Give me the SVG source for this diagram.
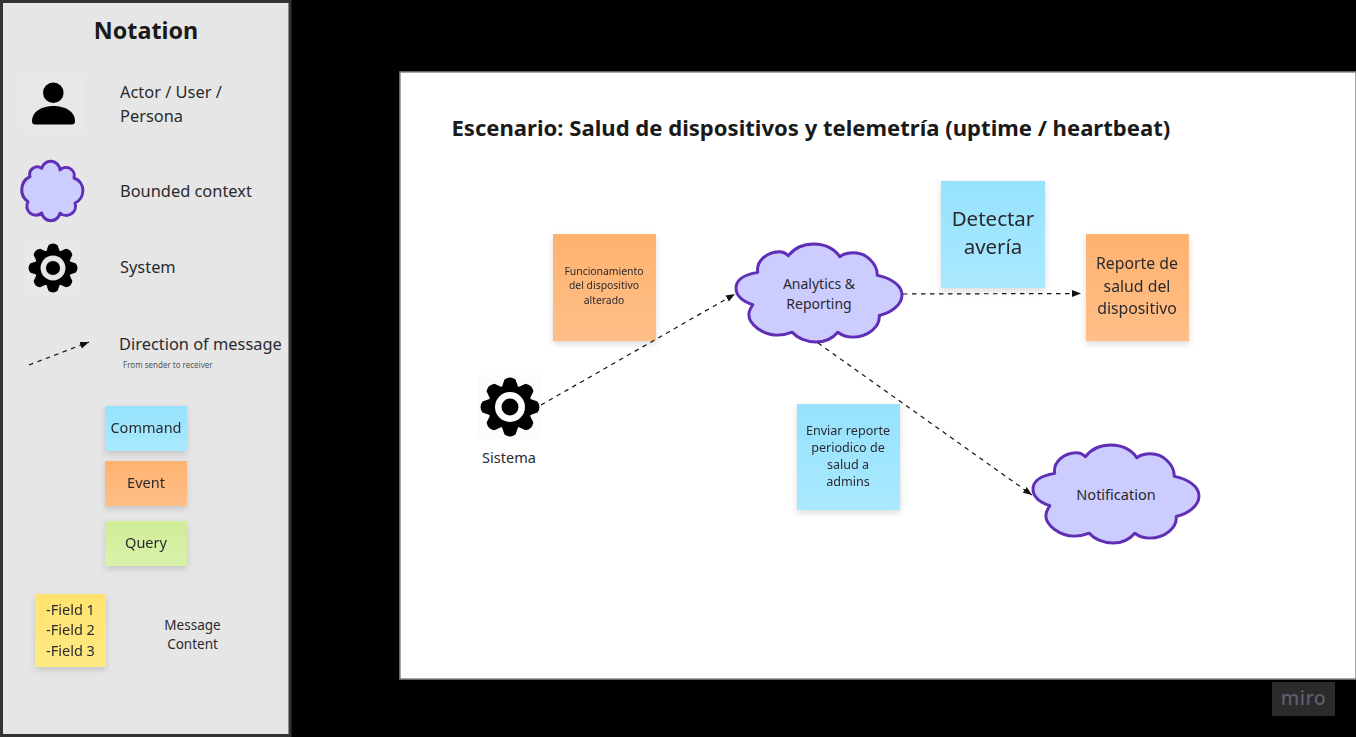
<svg xmlns="http://www.w3.org/2000/svg" xmlns:xlink="http://www.w3.org/1999/xlink" width="1356" height="737" viewBox="0 0 1356 737">
<style>
text{font-family:"Noto Sans","Open Sans",sans-serif;fill:#2a2a2e;text-anchor:middle}
.l{text-anchor:start;font-size:16.4px}
.b{font-weight:700;fill:#1a1a1a}
.cloud{fill:#ccccff;stroke:#5f2fb5;stroke-width:3;stroke-linejoin:round}
.conn{fill:none;stroke:#111;stroke-width:1.2;stroke-dasharray:4.5 4.5;marker-end:url(#arrow)}
.shadow{filter:url(#sh)}
</style>
<defs>
<linearGradient id="gb" x1="0" y1="0" x2="0" y2="1"><stop offset="0" stop-color="#96e2fd"/><stop offset="1" stop-color="#a9e9ff"/></linearGradient>
<linearGradient id="go" x1="0" y1="0" x2="0" y2="1"><stop offset="0" stop-color="#ffb26f"/><stop offset="1" stop-color="#ffbf88"/></linearGradient>
<linearGradient id="gg" x1="0" y1="0" x2="0" y2="1"><stop offset="0" stop-color="#cfec97"/><stop offset="1" stop-color="#d9f2aa"/></linearGradient>
<linearGradient id="gy" x1="0" y1="0" x2="0" y2="1"><stop offset="0" stop-color="#ffe36e"/><stop offset="1" stop-color="#ffe983"/></linearGradient>
<filter id="sh" x="-15%" y="-15%" width="130%" height="135%"><feDropShadow dx="0" dy="3" stdDeviation="3" flood-color="#000" flood-opacity="0.14"/></filter>
<marker id="arrow" markerUnits="userSpaceOnUse" markerWidth="10" markerHeight="8" refX="9" refY="4" orient="auto"><path d="M0,0.5 L9,4 L0,7.5 Z" fill="#111"/></marker>
<path id="cl" d="M17,62 C5,58 0,52 0,45 C0,36 10,31 22,29 C20,17 32,8 44,8 C48,8 51,10 53,12 C59,4 68,0 79,0 C90,0 100,5 105,13 C109,10 114,9 119,9 C132,9 143,20 143,32 C157,35 168,42 168,52 C168,62 157,70 145,73 C146,84 134,95 118,95 C112,95 107,93 103,90 C98,96 90,100 81,100 C72,100 62,96 57,90 C52,92 47,93 42,93 C27,93 13,82 13,72 C13,68 15,65 17,62 Z"/>
<g id="gear">
<circle r="22"/>
<g id="t4"><path id="t" d="M-8.500,-19 L-5.500,-27.500 Q0,-31.500 5.500,-27.500 L8.500,-19 Z"/><use href="#t" transform="rotate(90)"/><use href="#t" transform="rotate(180)"/><use href="#t" transform="rotate(270)"/></g>
<use href="#t4" transform="rotate(45)"/>
<circle r="15" fill="currentColor"/>
<circle r="8.5"/>
</g>
</defs>
<rect width="1356" height="737" fill="#000"/>
<g id="notation-panel">
<rect x="1.5" y="1.5" width="288.5" height="734" fill="#e6e6e6" stroke="#333" stroke-width="3"/>
<text class="b" x="146" y="39" font-size="23.300">Notation</text>
</g>
<g id="legend-actor">
<rect x="23" y="73" width="60" height="60" fill="#e8e8e8"/>
<circle cx="53.3" cy="92.7" r="10.3"/>
<path d="M32,121 C32,111 43,106 53.5,106 C64,106 75,111 75,121 Q75,124.500 72,124.500 L35,124.500 Q32,124.500 32,121 Z"/>
<text class="l" x="120" y="98">Actor / User /</text>
<text class="l" x="120" y="122">Persona</text>
</g>
<g id="legend-context">
<path class="cloud" d="M41.700,168.300 A9.300,9.300 0 0 1 60,170 A8.300,8.300 0 0 1 74,178 A13.500,13.500 0 0 1 75,203 A9.300,9.300 0 0 1 60,213 A9.300,9.300 0 0 1 41.700,213 A9,9 0 0 1 28,201.700 A14.500,14.500 0 0 1 30,176.700 A7.600,7.600 0 0 1 41.700,168.300 Z"/>
<text class="l" x="120" y="197">Bounded context</text>
</g>
<g id="legend-system">
<rect x="26" y="241" width="54" height="54" fill="#e8e8e8"/>
<use href="#gear" transform="translate(53,268) scale(0.83)" color="#e6e6e6"/>
<text class="l" x="120" y="273">System</text>
</g>
<g id="legend-direction">
<text class="l" x="119" y="350">Direction of message</text>
<text x="123" y="368" font-size="8" style="text-anchor:start;fill:#555">From sender to receiver</text>
</g>
<g id="legend-command" class="shadow"><rect x="105" y="406" width="82" height="45" fill="url(#gb)"/><text x="146" y="433" font-size="14.500">Command</text></g>
<g id="legend-event" class="shadow"><rect x="105" y="461" width="82" height="45" fill="url(#go)"/><text x="146" y="488" font-size="14.500">Event</text></g>
<g id="legend-query" class="shadow"><rect x="105" y="521" width="82" height="45" fill="url(#gg)"/><text x="146" y="548" font-size="14.500">Query</text></g>
<g id="legend-fields" class="shadow"><rect x="35" y="594" width="71" height="73" fill="url(#gy)"/>
<text x="70.500" y="615" font-size="14.500">-Field 1</text><text x="70.500" y="635" font-size="14.500">-Field 2</text><text x="70.500" y="656" font-size="14.500">-Field 3</text></g>
<g id="legend-message"><text x="192.500" y="630" font-size="13.500">Message</text><text x="192.500" y="649" font-size="13.500">Content</text></g>
<g id="canvas"><rect x="400" y="72" width="956" height="607" fill="#fff" stroke="#8a8a8a" stroke-width="1.500"/></g>
<g id="title"><text class="b" x="451.500" y="136" font-size="22.080" style="text-anchor:start">Escenario: Salud de dispositivos y telemetría (uptime / heartbeat)</text></g>
<g id="sistema">
<rect x="478" y="375" width="64" height="64" fill="#fcfcfc"/>
<use href="#gear" transform="translate(510,407)" color="#fff"/>
<text x="509" y="463" font-size="14.500">Sistema</text>
</g>
<g id="funcionamiento" class="shadow"><rect x="553" y="234" width="103" height="107" fill="url(#go)"/>
<text x="604" y="275" font-size="10.400">Funcionamiento</text><text x="604" y="289" font-size="10.400">del dispositivo</text><text x="604" y="304" font-size="10.400">alterado</text></g>
<g id="analytics"><use href="#cl" class="cloud" transform="translate(736,244) scale(0.988,0.98)"/>
<text x="819" y="289" font-size="14">Analytics &amp;</text><text x="819" y="309" font-size="14">Reporting</text></g>
<g id="detectar" class="shadow"><rect x="941" y="181" width="104" height="107" fill="url(#gb)"/>
<text x="993" y="226" font-size="20.500">Detectar</text><text x="993" y="254" font-size="20.500">avería</text></g>
<g id="reporte" class="shadow"><rect x="1086" y="234" width="103" height="107" fill="url(#go)"/>
<text x="1137" y="269" font-size="15.800">Reporte de</text><text x="1137" y="292" font-size="15.800">salud del</text><text x="1137" y="314" font-size="15.800">dispositivo</text></g>
<g id="enviar" class="shadow"><rect x="797" y="404" width="103" height="106" fill="url(#gb)"/>
<text x="848" y="435" font-size="12.600">Enviar reporte</text><text x="848" y="452" font-size="12.600">periodico de</text><text x="848" y="469" font-size="12.600">salud a</text><text x="848" y="486" font-size="12.600">admins</text></g>
<g id="notification"><use href="#cl" class="cloud" transform="translate(1033,445) scale(0.988,0.98)"/>
<text x="1116" y="500" font-size="14.500">Notification</text></g>
<g id="connectors">
<path class="conn" d="M29,365 L89,342"/>
<path class="conn" d="M541,405 L735,294"/>
<path class="conn" d="M903,294 L1081,293.500"/>
<path class="conn" d="M818,343 L1032,495"/>
</g>
<g id="miro"><rect x="1272" y="682" width="63" height="34" fill="#2b2b2b"/><text x="1303.500" y="705" font-size="19.500" font-weight="500" letter-spacing="0.500" style="fill:#5f5d6b">miro</text></g>
</svg>
